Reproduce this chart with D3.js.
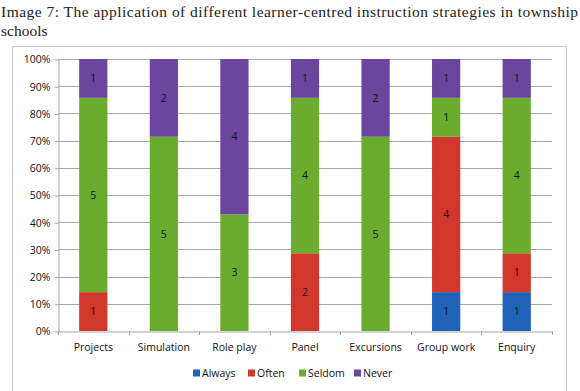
<!DOCTYPE html>
<html>
<head>
<meta charset="utf-8">
<script src="https://cdn.jsdelivr.net/npm/d3@7"></script>
<style>
  body { margin: 0; background: #fff; }
  svg { display: block; }
</style>
</head>
<body>
<svg width="580" height="391"></svg>
<script>
  const svg = d3.select("svg");

  // data
  const categories = ["Projects", "Simulation", "Role play", "Panel", "Excursions", "Group work", "Enquiry"];
  const seriesNames = ["Always", "Often", "Seldom", "Never"];
  const always = [0, 0, 0, 0, 0, 1, 1];
  const often  = [1, 0, 0, 2, 0, 4, 1];
  const seldom = [5, 5, 3, 4, 5, 1, 4];
  const never  = [1, 2, 4, 1, 2, 1, 1];
  const yTicks = [0, 0.1, 0.2, 0.3, 0.4, 0.5, 0.6, 0.7, 0.8, 0.9, 1];
  const colors = ["#1f63b8", "#d1372b", "#6aac2d", "#6b459e"];

  const rows = categories.map((c, i) => ({
    name: c, Always: always[i], Often: often[i], Seldom: seldom[i], Never: never[i]
  }));
  rows.forEach(r => { r.total = r.Always + r.Often + r.Seldom + r.Never; });

  // title (justified first line)
  svg.append("text")
    .attr("x", 1).attr("y", 17)
    .attr("textLength", 577).attr("lengthAdjust", "spacing")
    .style("font-family", "Liberation Serif, DejaVu Serif, serif")
    .style("font-size", "15.5px").style("fill", "#222")
    .text("Image 7: The application of different learner-centred instruction strategies in township");
  svg.append("text")
    .attr("x", 1).attr("y", 36)
    .style("font-family", "Liberation Serif, DejaVu Serif, serif")
    .style("font-size", "15.5px").style("fill", "#222")
    .text("schools");

  // chart frame
  svg.append("rect")
    .attr("x", 12.5).attr("y", 46.5).attr("width", 554).attr("height", 360)
    .style("fill", "none").style("stroke", "#c9c9c9");

  const x = d3.scaleBand().domain(categories).range([58, 552]).paddingInner(0.6).paddingOuter(0.3);
  const xb = d3.scaleBand().domain(categories).range([58, 552]);
  const y = d3.scaleLinear().domain([0, 1]).range([331, 59]);

  const font = "Open Sans, Liberation Sans, sans-serif";

  // gridlines
  svg.append("g").selectAll("line").data(yTicks.slice(1)).join("line")
    .attr("x1", 58).attr("x2", 552)
    .attr("y1", d => Math.round(y(d)) + 0.5).attr("y2", d => Math.round(y(d)) + 0.5)
    .style("stroke", "#a6a6a6");

  // y axis
  const yAxis = svg.append("g").attr("transform", "translate(58.5,0.5)")
    .call(d3.axisLeft(y).tickValues(yTicks).tickFormat(d3.format(".0%")).tickSize(4).tickSizeOuter(0));
  yAxis.select(".domain").style("stroke", "#a6a6a6");
  yAxis.selectAll(".tick line").style("stroke", "#a6a6a6");
  yAxis.selectAll("text").attr("x", -8).style("font-family", font).style("font-size", "10.5px").style("fill", "#111");

  // stacked bars
  const stack = d3.stack().keys(seriesNames).offset(d3.stackOffsetExpand);
  const layers = stack(rows);

  const g = svg.append("g");
  layers.forEach((layer, li) => {
    g.append("g").selectAll("rect").data(layer).join("rect")
      .attr("x", d => x(d.data.name))
      .attr("width", x.bandwidth())
      .attr("y", d => y(d[1]))
      .attr("height", d => y(d[0]) - y(d[1]))
      .style("fill", colors[li]);
    g.append("g").selectAll("text").data(layer.filter(d => d.data[layer.key] > 0)).join("text")
      .attr("x", d => x(d.data.name) + x.bandwidth() / 2)
      .attr("y", d => (y(d[0]) + y(d[1])) / 2)
      .attr("dy", "0.35em")
      .attr("text-anchor", "middle")
      .style("font-family", font).style("font-size", "10.5px").style("fill", "#111")
      .text(d => d.data[layer.key]);
  });

  // x axis
  const xAxis = svg.append("g").attr("transform", "translate(0,331.5)")
    .call(d3.axisBottom(xb).tickSize(0).tickSizeOuter(0));
  xAxis.select(".domain").style("stroke", "#a6a6a6");
  xAxis.selectAll("text").attr("y", 12).style("font-family", font).style("font-size", "10.5px").style("fill", "#111");
  svg.append("g").selectAll("line").data(categories.concat(["end"])).join("line")
    .attr("x1", (d, i) => Math.round(58 + i * xb.step()) + 0.5)
    .attr("x2", (d, i) => Math.round(58 + i * xb.step()) + 0.5)
    .attr("y1", 331).attr("y2", 335)
    .style("stroke", "#a6a6a6");

  // legend
  const legendX = [193, 248, 299, 354];
  const legend = svg.append("g").selectAll("g").data(seriesNames).join("g")
    .attr("transform", (d, i) => `translate(${legendX[i]},373)`);
  legend.append("rect").attr("x", 0).attr("y", -3.5).attr("width", 7).attr("height", 7)
    .style("fill", (d, i) => colors[i]);
  legend.append("text").attr("x", 9).attr("dy", "0.35em")
    .style("font-family", font).style("font-size", "10.5px").style("fill", "#111")
    .text(d => d);
</script>
</body>
</html>
